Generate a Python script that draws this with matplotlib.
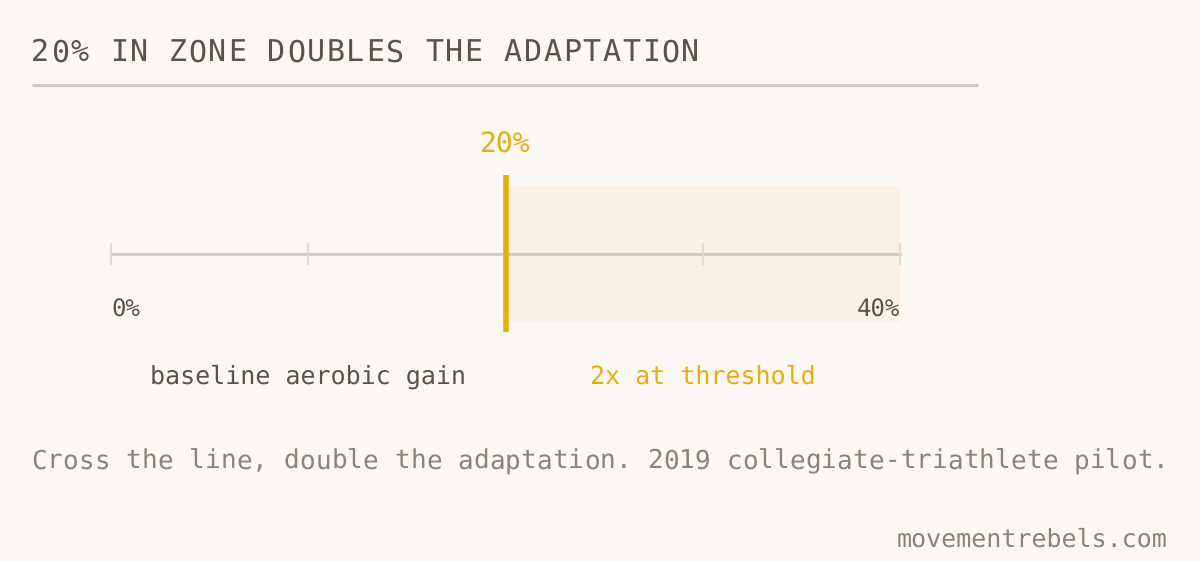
import matplotlib
matplotlib.use("Agg")
import matplotlib.pyplot as plt

## Chart values
scale_ticks = [0, 10, 20, 30, 40]        # percent
scale_labels = ["0%", "40%"]
threshold = 20
zone_end = 40
segment_names = ["baseline aerobic gain", "2x at threshold"]
segment_centres = [10, 30]

title = "20% IN ZONE DOUBLES THE ADAPTATION"
caption = "Cross the line, double the adaptation. 2019 collegiate-triathlete pilot."
source = "movementrebels.com"

## Colours
BG = "#faf8f4"
INK = "#58544b"
MUTED = "#8a857b"
RULE = "#d0ccc4"
TICK = "#e0ddd6"
AMBER = "#e8ae0c"
ZONE = "#f8f1e4"

plt.rcParams['font.family'] = ['DejaVu Sans Mono']
plt.rcParams['text.hinting'] = 'no_hinting'
plt.rcParams['text.hinting_factor'] = 1

W, H = 1200, 561
fig = plt.figure(figsize=(W / 100, H / 100), dpi=100, facecolor=BG)
ax = fig.add_axes([0, 0, 1, 1])
ax.set_facecolor(BG)

# map percent onto pixels: 0% at x=111, 40% at x=900
px_per_pct = (900 - 111) / 40.
ax.set_xlim(-111 / px_per_pct, (W - 111) / px_per_pct)
ax.set_ylim(H, 0)
ax.axis('off')


def px(x):
    # pixel x -> data x
    return (x - 111) / px_per_pct


def spaced(s, x0, y, pitch, **kw):
    # letter-spaced mono text, one character at a time
    for i, ch in enumerate(s):
        ax.text(px(x0 + i * pitch), y, ch, ha='left', va='center', **kw)


## Header
spaced(title, 31, 53, 19.7, fontsize=21.5, color=INK)
ax.plot([px(32), px(978)], [85, 85], color=RULE, lw=2.2, solid_capstyle='butt')

## Scale
ax.fill_between([threshold, zone_end], 186, 322, color=ZONE, lw=0, zorder=1)
ax.plot([scale_ticks[0], scale_ticks[-1]], [254, 254], color=RULE, lw=2.2, zorder=2)
for t in scale_ticks:
    ax.plot([t, t], [244, 264], color=TICK, lw=1.6, zorder=2)
ax.plot([threshold, threshold], [175, 332], color=AMBER, lw=4, zorder=3,
        solid_capstyle='butt')
ax.text(threshold, 145, "%d%%" % threshold, fontsize=20, color=AMBER,
        ha='center', va='center')
ax.text(scale_ticks[0], 310, scale_labels[0], fontsize=17, color=INK,
        ha='left', va='center')
ax.text(scale_ticks[-1], 310, scale_labels[1], fontsize=17, color=INK,
        ha='right', va='center')

## Segment labels
ax.text(segment_centres[0], 377, segment_names[0], fontsize=17.8, color=INK,
        ha='center', va='center')
ax.text(segment_centres[1], 377, segment_names[1], fontsize=17.8, color=AMBER,
        ha='center', va='center')

## Footer
spaced(caption, 31, 461, 15.8, fontsize=18.8, color=MUTED)
ax.text(px(1168), 540, source, fontsize=17.8, color=MUTED, ha='right', va='center')

fig.savefig("out.png", dpi=100, facecolor=BG)
